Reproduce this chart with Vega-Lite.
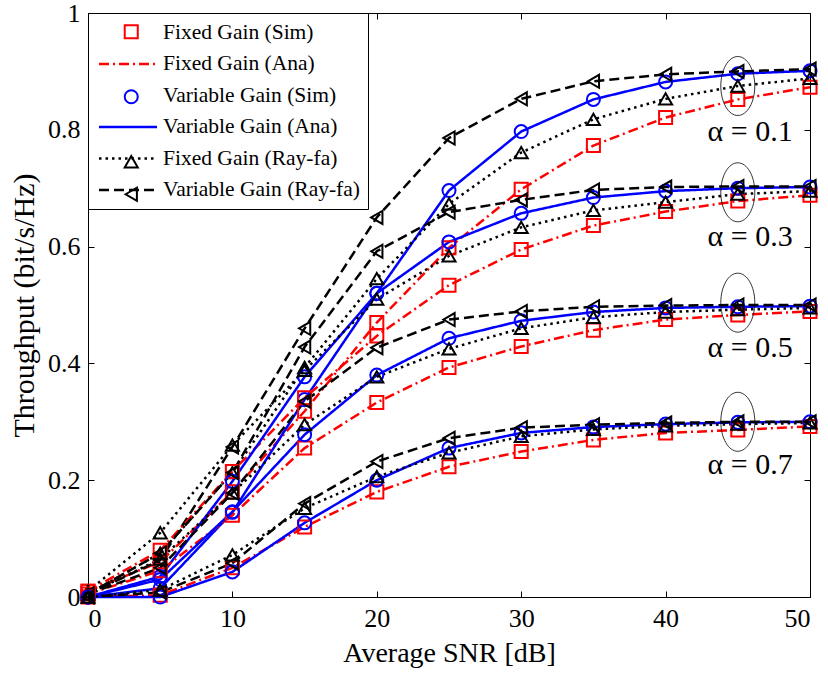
{
  "$schema": "https://vega.github.io/schema/vega-lite/v6.json",
  "width": 722,
  "height": 584,
  "autosize": {"type": "none"},
  "padding": {"left": 88, "top": 13, "right": 18, "bottom": 76},
  "background": "white",
  "config": {
    "view": {"stroke": "black", "strokeWidth": 1},
    "font": "Liberation Serif",
    "axis": {
      "grid": false,
      "domainColor": "black",
      "tickColor": "black",
      "labelColor": "black",
      "titleColor": "black",
      "labelFont": "Liberation Serif",
      "titleFont": "Liberation Serif",
      "labelFontSize": 26,
      "titleFontSize": 28,
      "titleFontWeight": "normal",
      "tickSize": -6,
      "labelPadding": 14
    }
  },
  "datasets": {
    "curves": [
      {"alpha":"0.1","snr":0,"Fixed Gain (Sim)":0.01,"Fixed Gain (Ana)":0.01,"Variable Gain (Sim)":0.0,"Variable Gain (Ana)":0.0,"Fixed Gain (Ray-fa)":0.005,"Variable Gain (Ray-fa)":0.005},
      {"alpha":"0.1","snr":5,"Fixed Gain (Sim)":0.06,"Fixed Gain (Ana)":0.06,"Variable Gain (Sim)":0.015,"Variable Gain (Ana)":0.015,"Fixed Gain (Ray-fa)":0.075,"Variable Gain (Ray-fa)":0.063},
      {"alpha":"0.1","snr":10,"Fixed Gain (Sim)":0.18,"Fixed Gain (Ana)":0.18,"Variable Gain (Sim)":0.145,"Variable Gain (Ana)":0.145,"Fixed Gain (Ray-fa)":0.213,"Variable Gain (Ray-fa)":0.257},
      {"alpha":"0.1","snr":15,"Fixed Gain (Sim)":0.318,"Fixed Gain (Ana)":0.318,"Variable Gain (Sim)":0.338,"Variable Gain (Ana)":0.338,"Fixed Gain (Ray-fa)":0.393,"Variable Gain (Ray-fa)":0.46},
      {"alpha":"0.1","snr":20,"Fixed Gain (Sim)":0.47,"Fixed Gain (Ana)":0.47,"Variable Gain (Sim)":0.52,"Variable Gain (Ana)":0.52,"Fixed Gain (Ray-fa)":0.545,"Variable Gain (Ray-fa)":0.65},
      {"alpha":"0.1","snr":25,"Fixed Gain (Sim)":0.598,"Fixed Gain (Ana)":0.598,"Variable Gain (Sim)":0.696,"Variable Gain (Ana)":0.696,"Fixed Gain (Ray-fa)":0.673,"Variable Gain (Ray-fa)":0.786},
      {"alpha":"0.1","snr":30,"Fixed Gain (Sim)":0.698,"Fixed Gain (Ana)":0.698,"Variable Gain (Sim)":0.797,"Variable Gain (Ana)":0.797,"Fixed Gain (Ray-fa)":0.761,"Variable Gain (Ray-fa)":0.853},
      {"alpha":"0.1","snr":35,"Fixed Gain (Sim)":0.773,"Fixed Gain (Ana)":0.773,"Variable Gain (Sim)":0.852,"Variable Gain (Ana)":0.852,"Fixed Gain (Ray-fa)":0.818,"Variable Gain (Ray-fa)":0.883},
      {"alpha":"0.1","snr":40,"Fixed Gain (Sim)":0.821,"Fixed Gain (Ana)":0.821,"Variable Gain (Sim)":0.882,"Variable Gain (Ana)":0.882,"Fixed Gain (Ray-fa)":0.853,"Variable Gain (Ray-fa)":0.895},
      {"alpha":"0.1","snr":45,"Fixed Gain (Sim)":0.852,"Fixed Gain (Ana)":0.852,"Variable Gain (Sim)":0.896,"Variable Gain (Ana)":0.896,"Fixed Gain (Ray-fa)":0.875,"Variable Gain (Ray-fa)":0.9},
      {"alpha":"0.1","snr":50,"Fixed Gain (Sim)":0.873,"Fixed Gain (Ana)":0.873,"Variable Gain (Sim)":0.901,"Variable Gain (Ana)":0.901,"Fixed Gain (Ray-fa)":0.888,"Variable Gain (Ray-fa)":0.904},

      {"alpha":"0.3","snr":0,"Fixed Gain (Sim)":0.01,"Fixed Gain (Ana)":0.01,"Variable Gain (Sim)":0.0,"Variable Gain (Ana)":0.0,"Fixed Gain (Ray-fa)":0.01,"Variable Gain (Ray-fa)":0.005},
      {"alpha":"0.3","snr":5,"Fixed Gain (Sim)":0.08,"Fixed Gain (Ana)":0.08,"Variable Gain (Sim)":0.035,"Variable Gain (Ana)":0.035,"Fixed Gain (Ray-fa)":0.11,"Variable Gain (Ray-fa)":0.075},
      {"alpha":"0.3","snr":10,"Fixed Gain (Sim)":0.215,"Fixed Gain (Ana)":0.215,"Variable Gain (Sim)":0.198,"Variable Gain (Ana)":0.198,"Fixed Gain (Ray-fa)":0.26,"Variable Gain (Ray-fa)":0.213},
      {"alpha":"0.3","snr":15,"Fixed Gain (Sim)":0.341,"Fixed Gain (Ana)":0.341,"Variable Gain (Sim)":0.377,"Variable Gain (Ana)":0.377,"Fixed Gain (Ray-fa)":0.388,"Variable Gain (Ray-fa)":0.428},
      {"alpha":"0.3","snr":20,"Fixed Gain (Sim)":0.447,"Fixed Gain (Ana)":0.447,"Variable Gain (Sim)":0.52,"Variable Gain (Ana)":0.52,"Fixed Gain (Ray-fa)":0.51,"Variable Gain (Ray-fa)":0.592},
      {"alpha":"0.3","snr":25,"Fixed Gain (Sim)":0.534,"Fixed Gain (Ana)":0.534,"Variable Gain (Sim)":0.608,"Variable Gain (Ana)":0.608,"Fixed Gain (Ray-fa)":0.584,"Variable Gain (Ray-fa)":0.659},
      {"alpha":"0.3","snr":30,"Fixed Gain (Sim)":0.595,"Fixed Gain (Ana)":0.595,"Variable Gain (Sim)":0.657,"Variable Gain (Ana)":0.657,"Fixed Gain (Ray-fa)":0.633,"Variable Gain (Ray-fa)":0.68},
      {"alpha":"0.3","snr":35,"Fixed Gain (Sim)":0.636,"Fixed Gain (Ana)":0.636,"Variable Gain (Sim)":0.684,"Variable Gain (Ana)":0.684,"Fixed Gain (Ray-fa)":0.662,"Variable Gain (Ray-fa)":0.697},
      {"alpha":"0.3","snr":40,"Fixed Gain (Sim)":0.66,"Fixed Gain (Ana)":0.66,"Variable Gain (Sim)":0.695,"Variable Gain (Ana)":0.695,"Fixed Gain (Ray-fa)":0.676,"Variable Gain (Ray-fa)":0.702},
      {"alpha":"0.3","snr":45,"Fixed Gain (Sim)":0.678,"Fixed Gain (Ana)":0.678,"Variable Gain (Sim)":0.7,"Variable Gain (Ana)":0.7,"Fixed Gain (Ray-fa)":0.69,"Variable Gain (Ray-fa)":0.703},
      {"alpha":"0.3","snr":50,"Fixed Gain (Sim)":0.688,"Fixed Gain (Ana)":0.688,"Variable Gain (Sim)":0.702,"Variable Gain (Ana)":0.702,"Fixed Gain (Ray-fa)":0.695,"Variable Gain (Ray-fa)":0.703},

      {"alpha":"0.5","snr":0,"Fixed Gain (Sim)":0.005,"Fixed Gain (Ana)":0.005,"Variable Gain (Sim)":0.0,"Variable Gain (Ana)":0.0,"Fixed Gain (Ray-fa)":0.005,"Variable Gain (Ray-fa)":0.005},
      {"alpha":"0.5","snr":5,"Fixed Gain (Sim)":0.045,"Fixed Gain (Ana)":0.045,"Variable Gain (Sim)":0.03,"Variable Gain (Ana)":0.03,"Fixed Gain (Ray-fa)":0.065,"Variable Gain (Ray-fa)":0.05},
      {"alpha":"0.5","snr":10,"Fixed Gain (Sim)":0.14,"Fixed Gain (Ana)":0.14,"Variable Gain (Sim)":0.146,"Variable Gain (Ana)":0.146,"Fixed Gain (Ray-fa)":0.178,"Variable Gain (Ray-fa)":0.178},
      {"alpha":"0.5","snr":15,"Fixed Gain (Sim)":0.255,"Fixed Gain (Ana)":0.255,"Variable Gain (Sim)":0.278,"Variable Gain (Ana)":0.278,"Fixed Gain (Ray-fa)":0.295,"Variable Gain (Ray-fa)":0.335},
      {"alpha":"0.5","snr":20,"Fixed Gain (Sim)":0.333,"Fixed Gain (Ana)":0.333,"Variable Gain (Sim)":0.38,"Variable Gain (Ana)":0.38,"Fixed Gain (Ray-fa)":0.377,"Variable Gain (Ray-fa)":0.427},
      {"alpha":"0.5","snr":25,"Fixed Gain (Sim)":0.393,"Fixed Gain (Ana)":0.393,"Variable Gain (Sim)":0.443,"Variable Gain (Ana)":0.443,"Fixed Gain (Ray-fa)":0.425,"Variable Gain (Ray-fa)":0.475},
      {"alpha":"0.5","snr":30,"Fixed Gain (Sim)":0.429,"Fixed Gain (Ana)":0.429,"Variable Gain (Sim)":0.473,"Variable Gain (Ana)":0.473,"Fixed Gain (Ray-fa)":0.46,"Variable Gain (Ray-fa)":0.489},
      {"alpha":"0.5","snr":35,"Fixed Gain (Sim)":0.457,"Fixed Gain (Ana)":0.457,"Variable Gain (Sim)":0.488,"Variable Gain (Ana)":0.488,"Fixed Gain (Ray-fa)":0.479,"Variable Gain (Ray-fa)":0.497},
      {"alpha":"0.5","snr":40,"Fixed Gain (Sim)":0.475,"Fixed Gain (Ana)":0.475,"Variable Gain (Sim)":0.495,"Variable Gain (Ana)":0.495,"Fixed Gain (Ray-fa)":0.488,"Variable Gain (Ray-fa)":0.499},
      {"alpha":"0.5","snr":45,"Fixed Gain (Sim)":0.483,"Fixed Gain (Ana)":0.483,"Variable Gain (Sim)":0.497,"Variable Gain (Ana)":0.497,"Fixed Gain (Ray-fa)":0.492,"Variable Gain (Ray-fa)":0.5},
      {"alpha":"0.5","snr":50,"Fixed Gain (Sim)":0.489,"Fixed Gain (Ana)":0.489,"Variable Gain (Sim)":0.498,"Variable Gain (Ana)":0.498,"Fixed Gain (Ray-fa)":0.495,"Variable Gain (Ray-fa)":0.5},

      {"alpha":"0.7","snr":0,"Fixed Gain (Sim)":0.0,"Fixed Gain (Ana)":0.0,"Variable Gain (Sim)":0.0,"Variable Gain (Ana)":0.0,"Fixed Gain (Ray-fa)":0.0,"Variable Gain (Ray-fa)":0.0},
      {"alpha":"0.7","snr":5,"Fixed Gain (Sim)":0.003,"Fixed Gain (Ana)":0.003,"Variable Gain (Sim)":0.0,"Variable Gain (Ana)":0.0,"Fixed Gain (Ray-fa)":0.012,"Variable Gain (Ray-fa)":0.008},
      {"alpha":"0.7","snr":10,"Fixed Gain (Sim)":0.05,"Fixed Gain (Ana)":0.05,"Variable Gain (Sim)":0.043,"Variable Gain (Ana)":0.043,"Fixed Gain (Ray-fa)":0.072,"Variable Gain (Ray-fa)":0.058},
      {"alpha":"0.7","snr":15,"Fixed Gain (Sim)":0.12,"Fixed Gain (Ana)":0.12,"Variable Gain (Sim)":0.127,"Variable Gain (Ana)":0.127,"Fixed Gain (Ray-fa)":0.152,"Variable Gain (Ray-fa)":0.16},
      {"alpha":"0.7","snr":20,"Fixed Gain (Sim)":0.18,"Fixed Gain (Ana)":0.18,"Variable Gain (Sim)":0.2,"Variable Gain (Ana)":0.2,"Fixed Gain (Ray-fa)":0.206,"Variable Gain (Ray-fa)":0.232},
      {"alpha":"0.7","snr":25,"Fixed Gain (Sim)":0.223,"Fixed Gain (Ana)":0.223,"Variable Gain (Sim)":0.255,"Variable Gain (Ana)":0.255,"Fixed Gain (Ray-fa)":0.247,"Variable Gain (Ray-fa)":0.272},
      {"alpha":"0.7","snr":30,"Fixed Gain (Sim)":0.249,"Fixed Gain (Ana)":0.249,"Variable Gain (Sim)":0.281,"Variable Gain (Ana)":0.281,"Fixed Gain (Ray-fa)":0.275,"Variable Gain (Ray-fa)":0.29},
      {"alpha":"0.7","snr":35,"Fixed Gain (Sim)":0.269,"Fixed Gain (Ana)":0.269,"Variable Gain (Sim)":0.291,"Variable Gain (Ana)":0.291,"Fixed Gain (Ray-fa)":0.287,"Variable Gain (Ray-fa)":0.295},
      {"alpha":"0.7","snr":40,"Fixed Gain (Sim)":0.281,"Fixed Gain (Ana)":0.281,"Variable Gain (Sim)":0.296,"Variable Gain (Ana)":0.296,"Fixed Gain (Ray-fa)":0.293,"Variable Gain (Ray-fa)":0.298},
      {"alpha":"0.7","snr":45,"Fixed Gain (Sim)":0.286,"Fixed Gain (Ana)":0.286,"Variable Gain (Sim)":0.299,"Variable Gain (Ana)":0.299,"Fixed Gain (Ray-fa)":0.296,"Variable Gain (Ray-fa)":0.3},
      {"alpha":"0.7","snr":50,"Fixed Gain (Sim)":0.292,"Fixed Gain (Ana)":0.292,"Variable Gain (Sim)":0.3,"Variable Gain (Ana)":0.3,"Fixed Gain (Ray-fa)":0.298,"Variable Gain (Ray-fa)":0.3}
    ],
    "notes": [
      {"label": "α = 0.1", "cx": 45, "cy": 0.875, "tx": 48.8, "ty": 0.796},
      {"label": "α = 0.3", "cx": 45, "cy": 0.693, "tx": 48.8, "ty": 0.616},
      {"label": "α = 0.5", "cx": 45, "cy": 0.504, "tx": 48.8, "ty": 0.427},
      {"label": "α = 0.7", "cx": 45, "cy": 0.300, "tx": 48.8, "ty": 0.226}
    ]
  },
  "layer": [
    {
      "data": {"name": "curves"},
      "transform": [{"fold": ["Fixed Gain (Ana)", "Variable Gain (Ana)", "Fixed Gain (Ray-fa)", "Variable Gain (Ray-fa)"], "as": ["series", "t"]}],
      "mark": {"type": "line", "strokeWidth": 2.5},
      "encoding": {
        "x": {"field": "snr", "type": "quantitative", "scale": {"domain": [0, 50], "nice": false}, "axis": {"title": "Average SNR [dB]", "values": [0, 10, 20, 30, 40, 50], "titlePadding": 8}},
        "y": {"field": "t", "type": "quantitative", "scale": {"domain": [0, 1], "nice": false}, "axis": {"title": "Throughput (bit/s/Hz)", "values": [0, 0.2, 0.4, 0.6, 0.8, 1], "format": "~g", "titlePadding": 8, "titleFontSize": 30}},
        "color": {
          "field": "series", "type": "nominal",
          "scale": {"domain": ["Fixed Gain (Sim)", "Fixed Gain (Ana)", "Variable Gain (Sim)", "Variable Gain (Ana)", "Fixed Gain (Ray-fa)", "Variable Gain (Ray-fa)"], "range": ["transparent", "#ff0000", "transparent", "#0000ff", "#000000", "#000000"]},
          "legend": {"title": null, "orient": "none", "legendX": 0, "legendY": 0, "symbolType": "M-2.9,0H2.9", "symbolSize": 400, "symbolOffset": 20.5, "symbolStrokeWidth": 2.5, "labelFont": "Liberation Serif", "labelFontSize": 21.5, "labelColor": "black", "labelOffset": 23.5, "labelLimit": 400, "padding": 8, "rowPadding": 9.5, "fillColor": "white", "strokeColor": "black", "cornerRadius": 0}
        },
        "strokeDash": {
          "field": "series", "type": "nominal",
          "scale": {"domain": ["Fixed Gain (Sim)", "Fixed Gain (Ana)", "Variable Gain (Sim)", "Variable Gain (Ana)", "Fixed Gain (Ray-fa)", "Variable Gain (Ray-fa)"], "range": [[1, 0], [10, 4, 2, 4], [1, 0], [1, 0], [2.5, 4], [10, 5]]},
          "legend": {"title": null, "orient": "none", "legendX": 0, "legendY": 0, "symbolType": "M-2.9,0H2.9", "symbolSize": 400, "symbolOffset": 20.5, "symbolStrokeWidth": 2.5, "labelFont": "Liberation Serif", "labelFontSize": 21.5, "labelColor": "black", "labelOffset": 23.5, "labelLimit": 400, "padding": 8, "rowPadding": 9.5, "fillColor": "white", "strokeColor": "black", "cornerRadius": 0}
        },
        "detail": {"field": "alpha"}
      }
    },
    {
      "data": {"name": "curves"},
      "transform": [{"fold": ["Fixed Gain (Sim)", "Variable Gain (Sim)", "Fixed Gain (Ray-fa)", "Variable Gain (Ray-fa)"], "as": ["series", "t"]}],
      "mark": {"type": "point", "filled": false, "strokeWidth": 2, "size": 170, "opacity": 1},
      "encoding": {
        "x": {"field": "snr", "type": "quantitative", "scale": {"domain": [0, 50], "nice": false}, "axis": null},
        "y": {"field": "t", "type": "quantitative", "scale": {"domain": [0, 1], "nice": false}, "axis": null},
        "color": {
          "field": "series", "type": "nominal",
          "scale": {"domain": ["Fixed Gain (Sim)", "Fixed Gain (Ana)", "Variable Gain (Sim)", "Variable Gain (Ana)", "Fixed Gain (Ray-fa)", "Variable Gain (Ray-fa)"], "range": ["#ff0000", "transparent", "#0000ff", "transparent", "#000000", "#000000"]},
          "legend": {"title": null, "orient": "none", "legendX": 24.5, "legendY": 0, "symbolSize": 170, "symbolStrokeWidth": 2, "labelFont": "Liberation Serif", "labelFontSize": 21.5, "labelOpacity": 0, "labelExpr": "' '", "labelOffset": 8, "labelLimit": 400, "padding": 8, "rowPadding": 9.5}
        },
        "shape": {
          "field": "series", "type": "nominal",
          "scale": {"domain": ["Fixed Gain (Sim)", "Fixed Gain (Ana)", "Variable Gain (Sim)", "Variable Gain (Ana)", "Fixed Gain (Ray-fa)", "Variable Gain (Ray-fa)"], "range": ["square", "square", "circle", "circle", "triangle-up", "triangle-left"]},
          "legend": {"title": null, "orient": "none", "legendX": 24.5, "legendY": 0, "symbolSize": 170, "symbolStrokeWidth": 2, "labelFont": "Liberation Serif", "labelFontSize": 21.5, "labelOpacity": 0, "labelExpr": "' '", "labelOffset": 8, "labelLimit": 400, "padding": 8, "rowPadding": 9.5}
        }
      }
    },
    {
      "data": {"name": "notes"},
      "mark": {"type": "point", "shape": "M0,-1A0.576,1,0,1,1,0,1A0.576,1,0,1,1,0,-1Z", "size": 3481, "filled": false, "stroke": "black", "strokeWidth": 0.8, "opacity": 1},
      "encoding": {
        "x": {"field": "cx", "type": "quantitative", "scale": {"domain": [0, 50], "nice": false}, "axis": null},
        "y": {"field": "cy", "type": "quantitative", "scale": {"domain": [0, 1], "nice": false}, "axis": null}
      }
    },
    {
      "data": {"name": "notes"},
      "mark": {"type": "text", "align": "right", "baseline": "middle", "font": "Liberation Serif", "fontSize": 30, "color": "black"},
      "encoding": {
        "x": {"field": "tx", "type": "quantitative", "scale": {"domain": [0, 50], "nice": false}, "axis": {"orient": "top", "values": [0, 10, 20, 30, 40, 50], "labels": false, "domain": false, "title": null}},
        "y": {"field": "ty", "type": "quantitative", "scale": {"domain": [0, 1], "nice": false}, "axis": {"orient": "right", "values": [0, 0.2, 0.4, 0.6, 0.8, 1], "labels": false, "domain": false, "title": null}},
        "text": {"field": "label"}
      }
    }
  ],
  "resolve": {"scale": {"color": "independent", "strokeDash": "independent", "shape": "independent"}, "axis": {"x": "independent", "y": "independent"}}
}
